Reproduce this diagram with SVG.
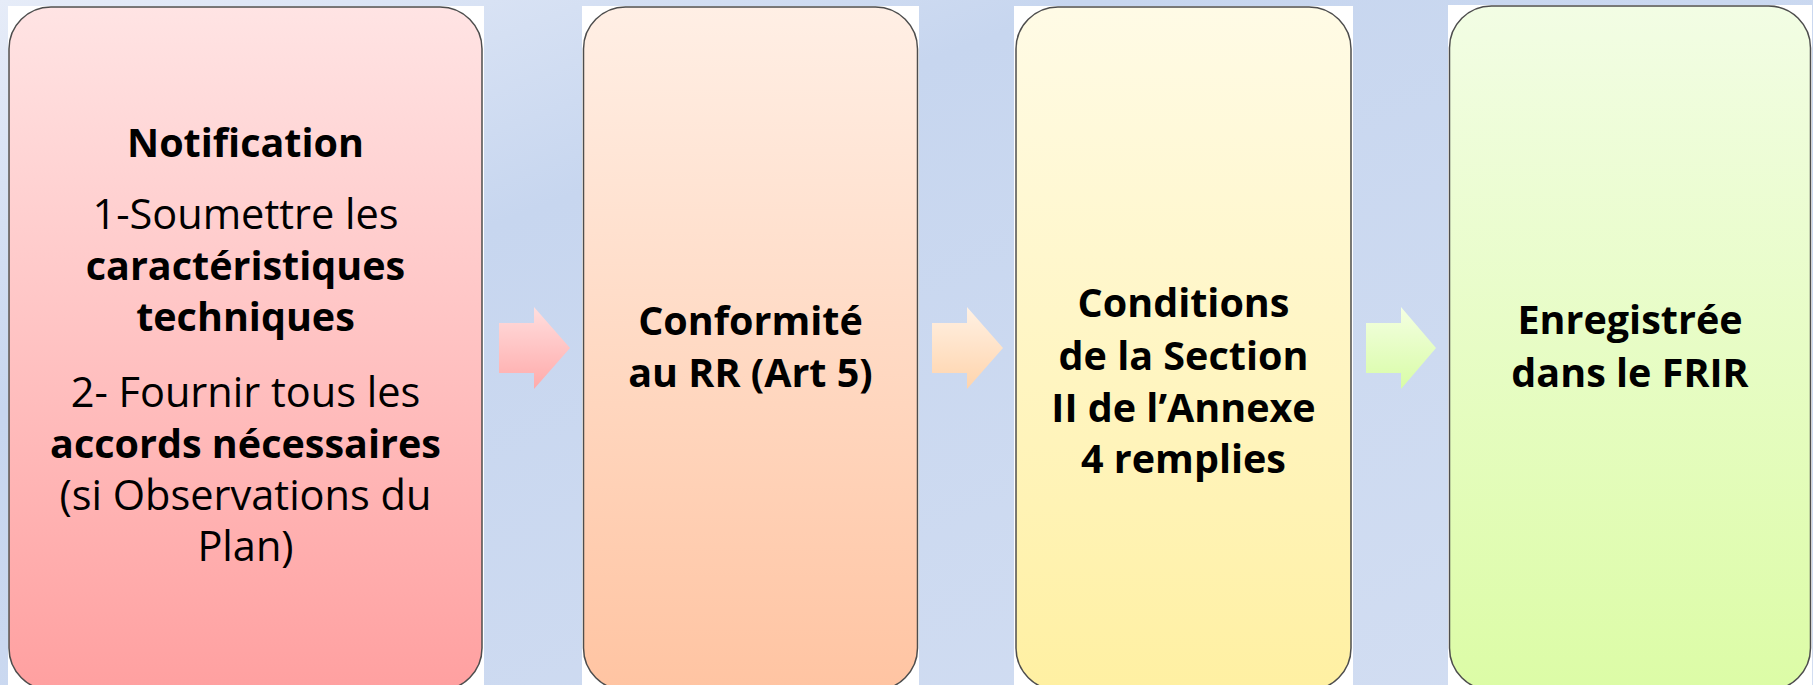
<svg xmlns="http://www.w3.org/2000/svg" width="1813" height="685" viewBox="0 0 1813 685">
  <defs>
    <linearGradient id="bg" x1="0" y1="0" x2="1" y2="1">
      <stop offset="0" stop-color="#e6ecf8"/>
      <stop offset="0.3" stop-color="#c7d6ef"/>
      <stop offset="1" stop-color="#d3def2"/>
    </linearGradient>
    <linearGradient id="g1" x1="0" y1="0" x2="0" y2="1">
      <stop offset="0" stop-color="#ffe4e4"/>
      <stop offset="1" stop-color="#ffa0a0"/>
    </linearGradient>
    <linearGradient id="g2" x1="0" y1="0" x2="0" y2="1">
      <stop offset="0" stop-color="#ffefe5"/>
      <stop offset="1" stop-color="#ffc4a2"/>
    </linearGradient>
    <linearGradient id="g3" x1="0" y1="0" x2="0" y2="1">
      <stop offset="0" stop-color="#fffbe6"/>
      <stop offset="1" stop-color="#fff0a2"/>
    </linearGradient>
    <linearGradient id="g4" x1="0" y1="0" x2="0" y2="1">
      <stop offset="0" stop-color="#f2fde4"/>
      <stop offset="1" stop-color="#dcfca6"/>
    </linearGradient>
    <linearGradient id="a1" x1="0" y1="0" x2="0" y2="1">
      <stop offset="0" stop-color="#ffdede"/>
      <stop offset="1" stop-color="#ffaaaa"/>
    </linearGradient>
    <linearGradient id="a2" x1="0" y1="0" x2="0" y2="1">
      <stop offset="0" stop-color="#fff1e4"/>
      <stop offset="1" stop-color="#ffd4ac"/>
    </linearGradient>
    <linearGradient id="a3" x1="0" y1="0" x2="0" y2="1">
      <stop offset="0" stop-color="#f4ffe2"/>
      <stop offset="1" stop-color="#d8fca6"/>
    </linearGradient>
  </defs>
  <style>
    .back { fill: #ffffff; }
    .box { stroke: #4d4d4d; stroke-width: 1.5; }
    text { font-family: "Open Sans", Lato, sans-serif; fill: #000; text-anchor: middle; }
    .b { font-weight: bold; font-size: 39.5px; }
    .r { font-weight: normal; font-size: 41.5px; }
  </style>
  <rect x="0" y="0" width="1813" height="685" fill="url(#bg)"/>

  <g id="node1">
    <rect class="back" x="8" y="6" width="476" height="690"/>
    <rect class="box" x="9" y="7" width="473" height="683" rx="42" ry="42" fill="url(#g1)"/>
    <text class="b" x="245.5" y="157">Notification</text>
    <text class="r" x="245.5" y="229">1-Soumettre les</text>
    <text class="b" x="245.5" y="280">caractéristiques</text>
    <text class="b" x="245.5" y="331">techniques</text>
    <text class="r" x="245.5" y="407">2- Fournir tous les</text>
    <text class="b" x="245.5" y="458">accords nécessaires</text>
    <text class="r" x="245.5" y="510">(si Observations du</text>
    <text class="r" x="245.5" y="561">Plan)</text>
  </g>

  <g id="node2">
    <rect class="back" x="582" y="6" width="337" height="690"/>
    <rect class="box" x="583.5" y="7" width="334" height="683" rx="42" ry="42" fill="url(#g2)"/>
    <text class="b" x="750.5" y="335">Conformité</text>
    <text class="b" x="750.5" y="387">au RR (Art 5)</text>
  </g>

  <g id="node3">
    <rect class="back" x="1014" y="6" width="339" height="690"/>
    <rect class="box" x="1016" y="7" width="335" height="683" rx="42" ry="42" fill="url(#g3)"/>
    <text class="b" x="1183.5" y="317">Conditions</text>
    <text class="b" x="1183.5" y="370">de la Section</text>
    <text class="b" x="1183.5" y="422">II de l’Annexe</text>
    <text class="b" x="1183.5" y="473">4 remplies</text>
  </g>

  <g id="node4">
    <rect class="back" x="1448" y="5" width="364" height="690"/>
    <rect class="box" x="1449.5" y="6" width="361" height="684" rx="42" ry="42" fill="url(#g4)"/>
    <text class="b" x="1630" y="334">Enregistrée</text>
    <text class="b" x="1630" y="387">dans le FRIR</text>
  </g>

  <g id="connectors">
    <polygon points="499,323 534,323 534,307 570,348 534,389 534,373 499,373" fill="url(#a1)"/>
    <polygon points="932,323 967,323 967,307 1003,348 967,389 967,373 932,373" fill="url(#a2)"/>
    <polygon points="1366,323 1401,323 1401,307 1436,348 1401,389 1401,373 1366,373" fill="url(#a3)"/>
  </g>
</svg>
